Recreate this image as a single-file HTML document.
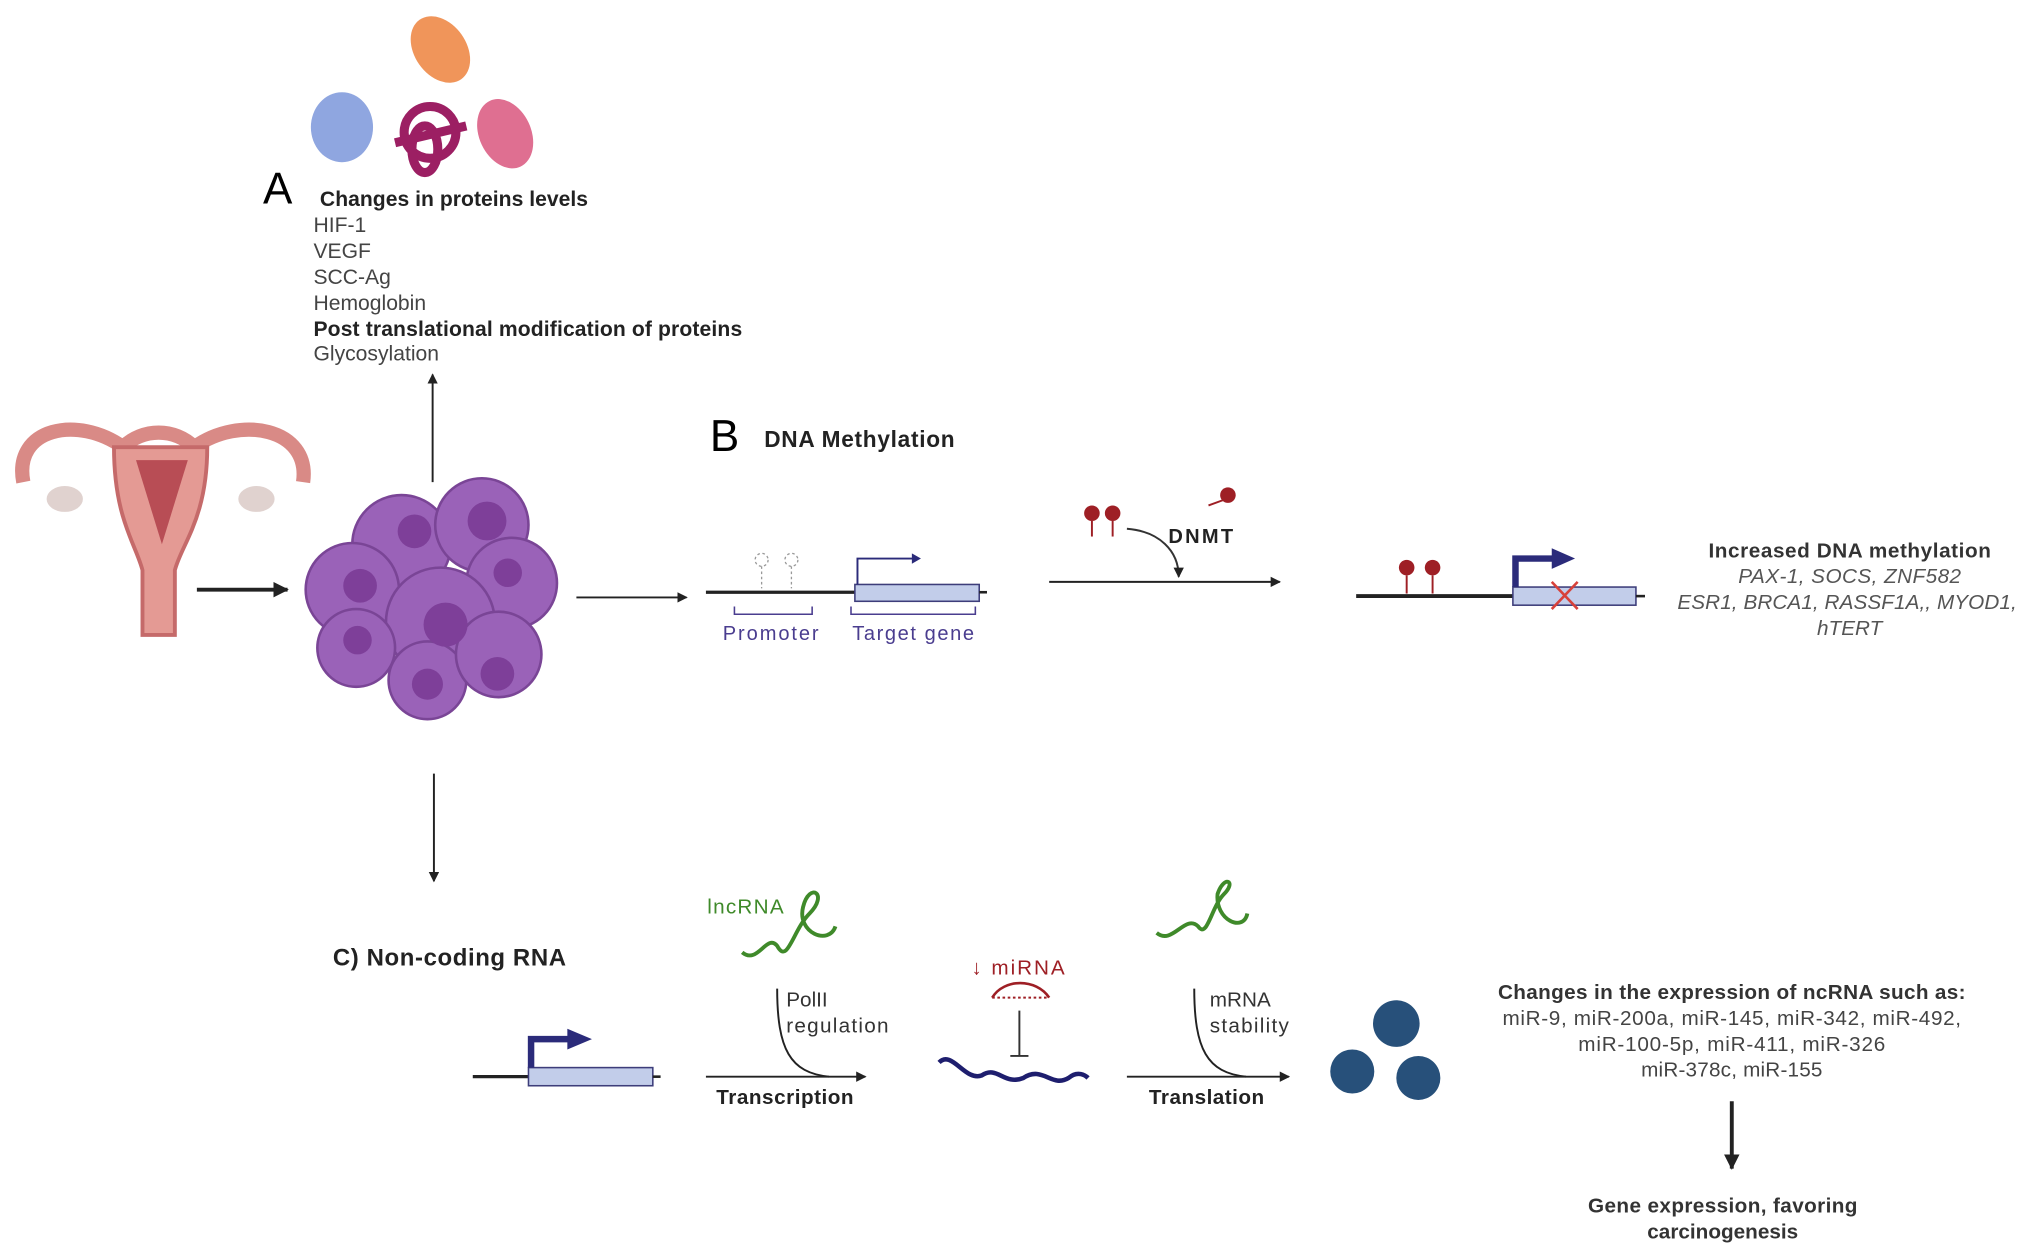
<!DOCTYPE html>
<html><head><meta charset="utf-8"><style>
html,body{margin:0;padding:0;background:#fff;}
svg{display:block;}
text{font-family:"Liberation Sans",sans-serif;}
</style></head><body>
<svg width="2031" height="1257" viewBox="0 0 1568 970" xmlns="http://www.w3.org/2000/svg">
<defs>
<marker id="ah" markerWidth="8" markerHeight="8" refX="7" refY="4" orient="auto" markerUnits="userSpaceOnUse"><path d="M0,0 L8,4 L0,8 z" fill="#222"/></marker>
<marker id="ahb" markerWidth="12" markerHeight="12" refX="11" refY="6" orient="auto" markerUnits="userSpaceOnUse"><path d="M0,0 L12,6 L0,12 z" fill="#222"/></marker>
</defs>
<ellipse cx="340" cy="38" rx="20" ry="28" transform="rotate(-35 340 38)" fill="#f0955a"/>
<ellipse cx="264" cy="98" rx="24" ry="27" fill="#8fa6e0"/>
<ellipse cx="390" cy="103" rx="20" ry="28" transform="rotate(-25 390 103)" fill="#df6f91"/>
<g fill="none" stroke="#9c1f63" stroke-width="7">
<circle cx="332" cy="102" r="20"/><ellipse cx="328" cy="115" rx="10" ry="18"/><path d="M305,110 L360,97"/>
</g>
<text x="203" y="157" font-size="34">A</text>
<text x="247" y="159" font-size="16.3" font-weight="bold" fill="#222" textLength="207">Changes in proteins levels</text>
<g font-size="16.3" fill="#444">
<text x="242" y="179">HIF-1</text><text x="242" y="199">VEGF</text><text x="242" y="219">SCC-Ag</text><text x="242" y="239">Hemoglobin</text>
<text x="242" y="259" font-weight="bold" fill="#222" textLength="331">Post translational modification of proteins</text>
<text x="242" y="278">Glycosylation</text>
</g>
<line x1="334" y1="372" x2="334" y2="289" stroke="#222" stroke-width="1.5" marker-end="url(#ah)"/>
<g>
<path d="M18,372 C10,330 60,320 95,345 C110,330 135,330 150,345 C185,320 240,330 234,372" fill="none" stroke="#d98a86" stroke-width="11"/>
<path d="M88,345 L160,345 C160,400 140,420 135,440 L135,490 L110,490 L110,440 C105,420 88,400 88,345 z" fill="#e49a94" stroke="#c56a6a" stroke-width="3"/>
<path d="M105,355 L145,355 L125,420 z" fill="#b84d55"/>
<ellipse cx="50" cy="385" rx="14" ry="10" fill="#e0d2cf"/><ellipse cx="198" cy="385" rx="14" ry="10" fill="#e0d2cf"/>
</g>
<line x1="152" y1="455" x2="222" y2="455" stroke="#222" stroke-width="3" marker-end="url(#ahb)"/>
<g fill="#9a62b8" stroke="#7a4596" stroke-width="2">
<circle cx="310" cy="420" r="38"/><circle cx="372" cy="405" r="36"/><circle cx="272" cy="455" r="36"/><circle cx="395" cy="450" r="35"/>
<circle cx="340" cy="480" r="42"/><circle cx="275" cy="500" r="30"/><circle cx="330" cy="525" r="30"/><circle cx="385" cy="505" r="33"/>
</g>
<g fill="#7e3f99">
<circle cx="320" cy="410" r="13"/><circle cx="376" cy="402" r="15"/><circle cx="278" cy="452" r="13"/><circle cx="392" cy="442" r="11"/>
<circle cx="344" cy="482" r="17"/><circle cx="276" cy="494" r="11"/><circle cx="330" cy="528" r="12"/><circle cx="384" cy="520" r="13"/>
</g>
<line x1="445" y1="461" x2="530" y2="461" stroke="#222" stroke-width="1.5" marker-end="url(#ah)"/>
<line x1="335" y1="597" x2="335" y2="680" stroke="#222" stroke-width="1.5" marker-end="url(#ah)"/>
<text x="548" y="348" font-size="34">B</text>
<text x="590" y="345" font-size="17.5" font-weight="bold" fill="#222" textLength="147">DNA Methylation</text>
<line x1="545" y1="457" x2="660" y2="457" stroke="#222" stroke-width="2.5"/>
<rect x="660" y="451" width="96" height="13" fill="#c2cdea" stroke="#3d3d7a" stroke-width="1.2"/>
<line x1="756" y1="457" x2="762" y2="457" stroke="#222" stroke-width="2"/>
<path d="M662,451 V431 H705" fill="none" stroke="#2b2b7a" stroke-width="1.5"/><path d="M704,427 L711,431 L704,435z" fill="#2b2b7a"/>
<g fill="none" stroke="#999" stroke-dasharray="2,2"><circle cx="588" cy="432" r="5"/><circle cx="611" cy="432" r="5"/><line x1="588" y1="437" x2="588" y2="454"/><line x1="611" y1="437" x2="611" y2="454"/></g>
<path d="M567,468 V474 H627 V468 M657,468 V474 H753 V468" fill="none" stroke="#4a3d8f" stroke-width="1.2"/>
<text x="558" y="494" font-size="15.5" fill="#4a3d8f" textLength="74">Promoter</text>
<text x="658" y="494" font-size="15.5" fill="#4a3d8f" textLength="94">Target gene</text>
<line x1="810" y1="449" x2="988" y2="449" stroke="#222" stroke-width="1.5" marker-end="url(#ah)"/>
<g fill="#9e1f25"><circle cx="843" cy="396" r="6"/><circle cx="859" cy="396" r="6"/><circle cx="948" cy="382" r="6"/></g>
<g stroke="#9e1f25" stroke-width="1.5"><line x1="843" y1="402" x2="843" y2="414"/><line x1="859" y1="402" x2="859" y2="414"/><line x1="944" y1="386" x2="933" y2="390"/></g>
<path d="M870,408 C895,410 910,425 910,445" fill="none" stroke="#333" stroke-width="1.5" marker-end="url(#ah)"/>
<text x="902" y="419" font-size="15.5" font-weight="bold" fill="#222" textLength="50">DNMT</text>
<line x1="1047" y1="460" x2="1168" y2="460" stroke="#222" stroke-width="3"/>
<rect x="1168" y="453" width="95" height="14" fill="#c2cdea" stroke="#3d3d7a" stroke-width="1.2"/>
<line x1="1263" y1="460" x2="1270" y2="460" stroke="#222" stroke-width="2"/>
<path d="M1170,453 V431 H1200" fill="none" stroke="#2b2b7a" stroke-width="5"/><path d="M1198,423 L1216,431 L1198,439z" fill="#2b2b7a"/>
<path d="M1198,449 L1218,470 M1218,449 L1198,470" stroke="#d8413a" stroke-width="2"/>
<g fill="#9e1f25"><circle cx="1086" cy="438" r="6"/><circle cx="1106" cy="438" r="6"/></g>
<g stroke="#9e1f25" stroke-width="1.5"><line x1="1086" y1="444" x2="1086" y2="458"/><line x1="1106" y1="444" x2="1106" y2="458"/></g>
<text x="1428" y="430" font-size="16" font-weight="bold" fill="#333" text-anchor="middle" textLength="218">Increased DNA methylation</text>
<g font-size="16" font-style="italic" fill="#555" text-anchor="middle">
<text x="1428" y="450" textLength="172">PAX-1, SOCS, ZNF582</text><text x="1426" y="470" textLength="262">ESR1, BRCA1, RASSF1A,, MYOD1,</text><text x="1428" y="490">hTERT</text></g>
<text x="257" y="745" font-size="18.5" font-weight="bold" fill="#222" textLength="180">C) Non-coding RNA</text>
<line x1="365" y1="831" x2="408" y2="831" stroke="#222" stroke-width="2.5"/>
<rect x="408" y="824" width="96" height="14" fill="#c2cdea" stroke="#3d3d7a" stroke-width="1.2"/>
<line x1="504" y1="831" x2="510" y2="831" stroke="#222" stroke-width="2"/>
<path d="M410,824 V802 H440" fill="none" stroke="#2b2b7a" stroke-width="5"/><path d="M438,794 L457,802 L438,810z" fill="#2b2b7a"/>
<text x="546" y="705" font-size="16" fill="#3f8a2a" textLength="59">lncRNA</text>
<path d="M573,735 C585,745 592,720 600,730 C608,745 612,718 625,705 C640,690 625,680 620,700 C615,720 640,730 645,715" fill="none" stroke="#3f8a2a" stroke-width="3"/>
<path d="M893,720 C905,730 915,705 925,715 C932,725 935,700 945,690 C955,680 945,675 940,690 C938,710 960,720 963,705" fill="none" stroke="#3f8a2a" stroke-width="3"/>
<line x1="545" y1="831" x2="668" y2="831" stroke="#222" stroke-width="1.5" marker-end="url(#ah)"/>
<path d="M600,763 C600,810 610,828 640,831" fill="none" stroke="#222" stroke-width="1.5"/>
<text x="607" y="777" font-size="16" fill="#333">PolII</text><text x="607" y="797" font-size="16" fill="#333" textLength="79">regulation</text>
<text x="553" y="852" font-size="16" font-weight="bold" fill="#222" textLength="106">Transcription</text>
<text x="750" y="752" font-size="16" fill="#9e1f25" textLength="72">↓ miRNA</text>
<path d="M766,770 C775,755 800,755 810,770" fill="none" stroke="#9e1f25" stroke-width="2"/>
<line x1="766" y1="770" x2="810" y2="770" stroke="#9e1f25" stroke-width="1.5" stroke-dasharray="2,2"/>
<line x1="787" y1="780" x2="787" y2="815" stroke="#333" stroke-width="1.5"/><line x1="780" y1="815" x2="794" y2="815" stroke="#333" stroke-width="1.5"/>
<path d="M725,820 C735,810 745,835 758,830 C770,822 775,838 790,832 C805,822 812,840 825,832 C832,826 838,830 840,832" fill="none" stroke="#1e1e6e" stroke-width="3.5"/>
<line x1="870" y1="831" x2="995" y2="831" stroke="#222" stroke-width="1.5" marker-end="url(#ah)"/>
<path d="M922,763 C922,810 932,828 962,831" fill="none" stroke="#222" stroke-width="1.5"/>
<text x="934" y="777" font-size="16" fill="#333">mRNA</text><text x="934" y="797" font-size="16" fill="#333" textLength="61">stability</text>
<text x="887" y="852" font-size="16" font-weight="bold" fill="#222" textLength="89">Translation</text>
<g fill="#27507a"><circle cx="1078" cy="790" r="18"/><circle cx="1044" cy="827" r="17"/><circle cx="1095" cy="832" r="17"/></g>
<text x="1337" y="771" font-size="16" font-weight="bold" fill="#333" text-anchor="middle" textLength="361">Changes in the expression of ncRNA such as:</text>
<g font-size="16" fill="#444" text-anchor="middle">
<text x="1337" y="791" textLength="354">miR-9, miR-200a, miR-145, miR-342, miR-492,</text>
<text x="1337" y="811" textLength="237">miR-100-5p, miR-411, miR-326</text>
<text x="1337" y="831" textLength="140">miR-378c, miR-155</text></g>
<line x1="1337" y1="850" x2="1337" y2="902" stroke="#222" stroke-width="3" marker-end="url(#ahb)"/>
<text x="1330" y="936" font-size="16" font-weight="bold" fill="#333" text-anchor="middle" textLength="208">Gene expression, favoring</text>
<text x="1330" y="956" font-size="16" font-weight="bold" fill="#333" text-anchor="middle">carcinogenesis</text>
</svg>
</body></html>
